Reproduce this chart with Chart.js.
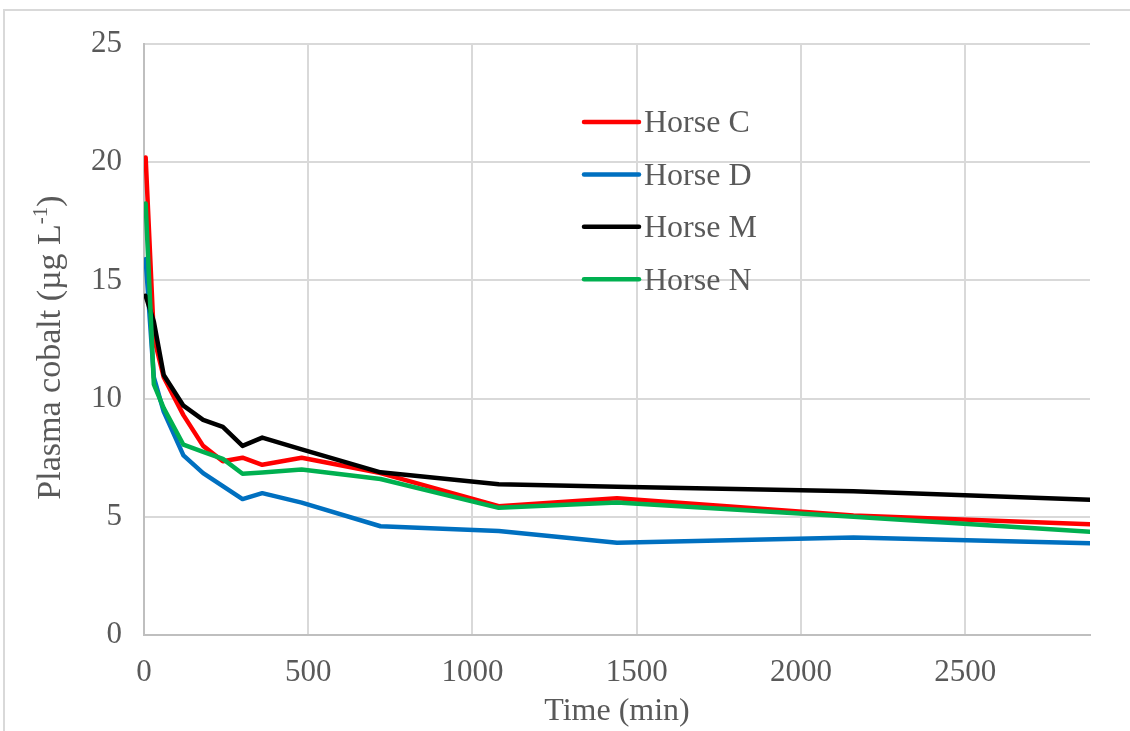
<!DOCTYPE html>
<html>
<head>
<meta charset="utf-8">
<title>Plasma cobalt</title>
<script src="https://cdn.jsdelivr.net/npm/chart.js@4/dist/chart.umd.min.js"></script>
<style>
  html, body { margin: 0; padding: 0; background: #fff; }
  #wrap { position: relative; width: 1130px; height: 731px; overflow: hidden; }
  #frame {
    position: absolute; left: 3px; top: 9px; right: 0; bottom: 0;
    border-left: 2px solid #d9d9d9; border-top: 2px solid #d9d9d9;
    pointer-events: none;
  }
  canvas { position: absolute; left: 0; top: 0; }
</style>
</head>
<body>
<div id="wrap">
  <canvas id="cobaltChart" width="1130" height="731"></canvas>
  <div id="frame"></div>
</div>
<script>
// sampling times (min) and plasma cobalt per horse (ug/L)
const times  = [5, 30, 60, 120, 180, 240, 300, 360, 480, 720, 1080, 1440, 2160, 2880];
const horseC = [20.2, 12.6, 10.9, 9.3, 8.0, 7.35, 7.5, 7.2, 7.5, 6.85, 5.45, 5.78, 5.05, 4.68];
const horseD = [15.9, 10.9, 9.45, 7.6, 6.85, 6.3, 5.75, 6.0, 5.6, 4.6, 4.4, 3.9, 4.12, 3.88];
const horseM = [14.35, 13.25, 11.0, 9.7, 9.1, 8.8, 8.0, 8.35, 7.85, 6.88, 6.38, 6.27, 6.08, 5.72];
const horseN = [18.25, 10.6, 9.6, 8.05, 7.75, 7.45, 6.82, 6.87, 7.0, 6.6, 5.38, 5.6, 5.0, 4.37];

const seriesNames = ['Horse C', 'Horse D', 'Horse M', 'Horse N'];
const seriesColors = ['#ff0000', '#0070c0', '#000000', '#00b050'];
const seriesValues = [horseC, horseD, horseM, horseN];

// axis ticks; x runs on to 2880 without a labelled tick there
const xTickValues = [0, 500, 1000, 1500, 2000, 2500];
const xMax = 2880;
const yTickValues = [0, 5, 10, 15, 20, 25];

const FONT = '"Liberation Serif", "Times New Roman", serif';
const TEXT = '#595959';
const GRID = '#d9d9d9';

const datasets = seriesNames.map((name, i) => ({
  label: name,
  data: times.map((t, j) => ({ x: t, y: seriesValues[i][j] })),
  borderColor: seriesColors[i],
  backgroundColor: seriesColors[i],
  borderWidth: 4.5,
  borderJoinStyle: 'round',
  borderCapStyle: 'round',
  pointRadius: 0,
  tension: 0,
  // last series ends up on top
  order: seriesNames.length - i
}));

// legend sits inside the plot, lines with labels to the right
const insideLegend = {
  id: 'insideLegend',
  afterDatasetsDraw(chart) {
    const ctx = chart.ctx;
    const x0 = 584, x1 = 639, top = 122, gap = 52.4;
    ctx.save();
    ctx.font = '32px ' + FONT;
    ctx.textBaseline = 'middle';
    ctx.fillStyle = TEXT;
    chart.data.datasets.forEach((ds, i) => {
      const y = top + i * gap;
      ctx.strokeStyle = ds.borderColor;
      ctx.lineWidth = 4.5;
      ctx.lineCap = 'round';
      ctx.beginPath();
      ctx.moveTo(x0, y);
      ctx.lineTo(x1, y);
      ctx.stroke();
      ctx.fillText(ds.label, x1 + 5, y + 2);
    });
    ctx.restore();
  }
};

// y axis title with a superscript -1
const yTitle = {
  id: 'yTitle',
  afterDraw(chart) {
    const ctx = chart.ctx;
    const area = chart.chartArea;
    const main = 'Plasma cobalt (\u00b5g L';
    const sup = '-1';
    const tail = ')';
    ctx.save();
    ctx.fillStyle = TEXT;
    ctx.textBaseline = 'alphabetic';
    ctx.font = '34px ' + FONT;
    const wMain = ctx.measureText(main).width;
    const wTail = ctx.measureText(tail).width;
    ctx.font = '21px ' + FONT;
    const wSup = ctx.measureText(sup).width;
    const total = wMain + wSup + wTail;
    ctx.translate(60, (area.top + area.bottom) / 2 + 8);
    ctx.rotate(-Math.PI / 2);
    let x = -total / 2;
    ctx.font = '34px ' + FONT;
    ctx.fillText(main, x, 0);
    x += wMain;
    ctx.font = '21px ' + FONT;
    ctx.fillText(sup, x, -13);
    x += wSup;
    ctx.font = '34px ' + FONT;
    ctx.fillText(tail, x, 0);
    ctx.restore();
  }
};

new Chart(document.getElementById('cobaltChart'), {
  type: 'line',
  data: { datasets },
  options: {
    responsive: false,
    animation: false,
    layout: { padding: { top: 44, right: 40, left: 0, bottom: 0 } },
    plugins: { legend: { display: false }, tooltip: { enabled: false } },
    scales: {
      x: {
        type: 'linear',
        min: xTickValues[0],
        max: xMax,
        afterFit(scale) { scale.height = 96; },
        afterBuildTicks(scale) { scale.ticks = xTickValues.map(v => ({ value: v })); },
        ticks: {
          padding: 19,
          color: TEXT,
          font: { family: FONT, size: 31, lineHeight: 1.2 },
          callback: v => String(v)
        },
        grid: { color: GRID, lineWidth: 2, drawTicks: false },
        border: { color: '#bfbfbf', width: 2 },
        title: {
          display: true,
          text: 'Time (min)',
          color: TEXT,
          font: { family: FONT, size: 32, lineHeight: 1.2 },
          padding: 0
        }
      },
      y: {
        min: yTickValues[0],
        max: yTickValues[yTickValues.length - 1],
        afterFit(scale) { scale.width = 144; },
        afterBuildTicks(scale) { scale.ticks = yTickValues.map(v => ({ value: v })); },
        ticks: {
          padding: 22,
          color: TEXT,
          font: { family: FONT, size: 31, lineHeight: 1.2 },
          callback: v => String(v)
        },
        grid: { color: GRID, lineWidth: 2, drawTicks: false },
        border: { color: '#bfbfbf', width: 2 }
      }
    }
  },
  plugins: [insideLegend, yTitle]
});
</script>
</body>
</html>
